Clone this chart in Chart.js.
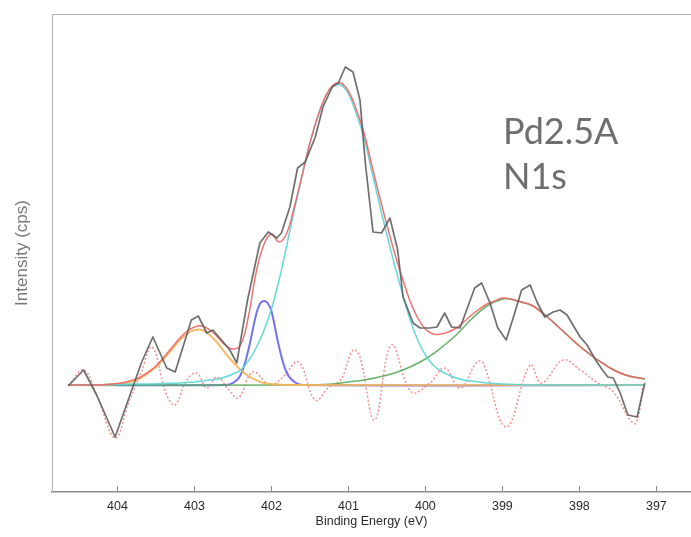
<!DOCTYPE html>
<html>
<head>
<meta charset="utf-8">
<script src="https://cdn.jsdelivr.net/npm/chart.js@4"></script>
<style>
  html, body { margin: 0; padding: 0; background: #fff; }
  #wrap { position: relative; width: 691px; height: 537px; }
</style>
</head>
<body>
<div id="wrap"><canvas id="xpsChart" width="691" height="537"></canvas></div>
<script>
// --- DATA (intensity in arbitrary units above background) ---
const xTicks = [404, 403, 402, 401, 400, 399, 398, 397];

// raw spectrum (background subtracted)
const rawEnergy = [404.64, 404.44, 404.27, 404.03, 403.86, 403.69, 403.54, 403.36, 403.25, 403.04, 402.95, 402.84, 402.76, 402.54, 402.45, 402.31, 402.15, 402.04, 401.93, 401.87, 401.76, 401.66, 401.56, 401.43, 401.33, 401.21, 401.13, 401.04, 400.94, 400.85, 400.78, 400.68, 400.57, 400.46, 400.36, 400.29, 400.16, 400.07, 399.94, 399.85, 399.75, 399.66, 399.55, 399.45, 399.36, 399.27, 399.16, 399.06, 398.95, 398.84, 398.75, 398.64, 398.55, 398.45, 398.34, 398.25, 398.16, 397.99, 397.90, 397.79, 397.70, 397.63, 397.56, 397.47, 397.37, 397.25, 397.15];
const rawCounts = [-1, 15, -10, -52, -15, 22, 48, 17, 13, 65, 69, 52, 55, 35, 22, 85, 142, 153, 147, 152, 178, 217, 223, 248, 278, 298, 302, 318, 313, 285, 222, 153, 152, 167, 135, 88, 62, 57, 57, 58, 72, 58, 57, 78, 97, 102, 82, 57, 45, 72, 95, 100, 83, 68, 73, 75, 70, 48, 40, 25, 15, 8, 7, -8, -30, -32, 2];

// fit envelope
const envEnergy = [404.64, 404.4, 404.2, 404.0, 403.9, 403.8, 403.7, 403.6, 403.5, 403.4, 403.3, 403.2, 403.1, 403.0, 402.9, 402.8, 402.7, 402.6, 402.5, 402.4, 402.3, 402.2, 402.1, 402.0, 401.9, 401.8, 401.7, 401.6, 401.5, 401.4, 401.3, 401.2, 401.1, 401.0, 400.9, 400.8, 400.7, 400.6, 400.5, 400.4, 400.3, 400.2, 400.1, 400.0, 399.9, 399.8, 399.7, 399.6, 399.5, 399.4, 399.3, 399.2, 399.1, 399.0, 398.9, 398.8, 398.7, 398.6, 398.5, 398.4, 398.3, 398.2, 398.1, 398.0, 397.9, 397.8, 397.7, 397.6, 397.5, 397.4, 397.3, 397.2, 397.15];
const envCounts = [0, 0, 0.3, 1.5, 2.7, 5, 8, 13, 19, 27.5, 36.7, 46, 53.5, 58, 59, 55, 48, 40, 36, 40, 68, 112, 140, 151, 143, 152, 179, 210, 242, 268, 288, 300, 302, 294, 276, 253, 221, 190, 160, 132, 107, 84, 67, 56, 51, 51, 53, 57, 63, 70, 76, 81, 84, 87, 86, 84, 82, 79, 73, 67, 60, 53, 46, 39, 33, 27, 22, 17, 13, 10, 8, 7, 6];

// component peaks
const peakAEnergy = [404.64, 404.2, 404.0, 403.9, 403.8, 403.7, 403.6, 403.5, 403.4, 403.3, 403.2, 403.1, 403.0, 402.9, 402.8, 402.7, 402.6, 402.5, 402.4, 402.3, 402.2, 402.1, 402.0, 401.8, 397.15];
const peakACounts = [0, 0, 1, 2, 4, 7, 12, 18, 26, 35, 44, 51, 55, 55, 50, 42, 32, 23, 15, 9, 5, 2, 1, 0, 0];

const peakBEnergy = [404.64, 402.6, 402.5, 402.4, 402.3, 402.2, 402.15, 402.1, 402.05, 402.0, 401.9, 401.8, 401.7, 401.6, 397.15];
const peakBCounts = [0, 0, 2, 10, 35, 70, 81, 84, 82, 74, 38, 12, 3, 0, 0];

const peakCEnergy = [404.64, 404.0, 403.8, 403.6, 403.4, 403.2, 403.1, 403.0, 402.9, 402.8, 402.7, 402.6, 402.5, 402.4, 402.3, 402.2, 402.1, 402.0, 401.9, 401.8, 401.7, 401.6, 401.5, 401.4, 401.3, 401.2, 401.1, 401.0, 400.9, 400.8, 400.7, 400.6, 400.5, 400.4, 400.3, 400.2, 400.1, 400.0, 399.9, 399.8, 399.7, 399.6, 399.5, 399.4, 399.2, 399.0, 398.6, 397.15];
const peakCCounts = [0, 0.5, 1, 1, 1.5, 2, 2.5, 3, 4, 5, 6, 8, 11, 15, 24, 37, 54, 76, 105, 140, 176, 210, 242, 268, 288, 299, 300, 291, 272, 248, 215, 182, 150, 120, 92, 66, 45, 30, 20, 14, 10, 7, 5, 4, 2, 1, 0, 0];

const peakDEnergy = [404.64, 401.6, 401.2, 401.0, 400.8, 400.6, 400.4, 400.2, 400.0, 399.8, 399.6, 399.4, 399.2, 399.0, 398.9, 398.8, 398.6, 398.4, 398.2, 398.0, 397.8, 397.6, 397.4, 397.15];
const peakDCounts = [0, 0, 1, 3, 5, 8, 12, 18, 26, 37, 50, 66, 79, 86, 86, 84, 79, 67, 53, 39, 27, 17, 10, 6];

// residual (raw - envelope)
const residEnergy = [404.64, 404.44, 404.27, 404.03, 403.86, 403.69, 403.55, 403.36, 403.25, 403.10, 402.97, 402.84, 402.71, 402.55, 402.43, 402.24, 402.02, 401.85, 401.65, 401.43, 401.25, 401.10, 400.94, 400.85, 400.66, 400.44, 400.18, 399.94, 399.75, 399.55, 399.33, 399.25, 398.95, 398.64, 398.49, 398.21, 397.99, 397.78, 397.56, 397.34, 397.26, 397.17];
const residCounts = [-1, 15, -10, -53, -19, 13, 38, -10, -20, 5, 12, -3, 8, -5, -13, 13, 0, 8, 23, -15, -2, 5, 35, 28, -35, 40, -7, 2, 17, -3, 23, 22, -42, 20, 2, 25, 15, 3, -7, -35, -38, 0];

function toPoints(xs, ys) {
    return xs.map((x, i) => ({ x: x, y: ys[i] }));
}

// draws top frame line, inward tick marks and the sample label
const framePlugin = {
    id: "frame",
    afterDraw(chart) {
        const ctx = chart.ctx;
        const area = chart.chartArea;
        const xs = chart.scales.x;
        ctx.save();
        ctx.strokeStyle = "#b4b4b4";
        ctx.lineWidth = 1;
        ctx.beginPath();
        ctx.moveTo(area.left, area.top + 0.5);
        ctx.lineTo(area.right, area.top + 0.5);
        ctx.stroke();
        ctx.strokeStyle = "#8a8a8a";
        ctx.beginPath();
        xTicks.forEach(t => {
            const px = Math.round(xs.getPixelForValue(t)) + 0.5;
            ctx.moveTo(px, area.bottom - 6);
            ctx.lineTo(px, area.bottom);
        });
        ctx.stroke();
        ctx.fillStyle = "#6e6e6e";
        ctx.font = "36px Lato, 'Open Sans', sans-serif";
        ctx.textBaseline = "alphabetic";
        ctx.fillText("Pd2.5A", 503, 144);
        ctx.fillText("N1s", 503, 189);
        ctx.restore();
    }
};

const lineBase = { fill: false, pointRadius: 0, borderJoinStyle: "round" };

new Chart(document.getElementById("xpsChart").getContext("2d"), {
    type: "line",
    data: {
        datasets: [
            Object.assign({}, lineBase, {
                label: "Raw", data: toPoints(rawEnergy, rawCounts),
                borderColor: "rgba(95,95,95,0.9)", borderWidth: 1.7, tension: 0, order: 1
            }),
            Object.assign({}, lineBase, {
                label: "Envelope", data: toPoints(envEnergy, envCounts),
                borderColor: "rgba(238,100,100,0.9)", borderWidth: 1.5, tension: 0.4, order: 2
            }),
            Object.assign({}, lineBase, {
                label: "Peak 401.1", data: toPoints(peakCEnergy, peakCCounts),
                borderColor: "rgba(95,215,215,0.95)", borderWidth: 1.5, tension: 0.4, order: 3
            }),
            Object.assign({}, lineBase, {
                label: "Peak 403.0", data: toPoints(peakAEnergy, peakACounts),
                borderColor: "rgba(245,180,90,0.9)", borderWidth: 2, tension: 0.4, order: 4
            }),
            Object.assign({}, lineBase, {
                label: "Peak 399.0", data: toPoints(peakDEnergy, peakDCounts),
                borderColor: "rgba(90,170,90,0.9)", borderWidth: 1.5, tension: 0.4, order: 5
            }),
            Object.assign({}, lineBase, {
                label: "Peak 402.1", data: toPoints(peakBEnergy, peakBCounts),
                borderColor: "rgba(100,100,240,0.9)", borderWidth: 2, tension: 0.4, order: 6
            }),
            Object.assign({}, lineBase, {
                label: "Residual", data: toPoints(residEnergy, residCounts),
                borderColor: "rgba(240,115,115,0.8)", borderWidth: 1.5, borderDash: [2, 2],
                tension: 0.4, order: 7
            })
        ]
    },
    options: {
        responsive: false,
        animation: false,
        layout: { padding: { top: 14, right: 0, left: 0, bottom: 0 } },
        plugins: { legend: { display: false }, tooltip: { enabled: false } },
        scales: {
            x: {
                type: "linear",
                reverse: true,
                min: 396.55,
                max: 404.85,
                afterBuildTicks: scale => { scale.ticks = xTicks.map(v => ({ value: v })); },
                afterFit: scale => { scale.height = 45; },
                grid: { display: false, drawTicks: false },
                border: { display: true, color: "#8a8a8a", width: 1.5 },
                ticks: {
                    padding: 7, color: "#2a2a2a", autoSkip: false, maxRotation: 0,
                    font: { family: "'Liberation Sans', Arial, sans-serif", size: 12.5 }
                },
                title: {
                    display: true, text: "Binding Energy (eV)", color: "#2a2a2a",
                    padding: { top: 0, bottom: 8 },
                    font: { family: "'Liberation Sans', Arial, sans-serif", size: 12.5 }
                }
            },
            y: {
                min: -107,
                max: 371,
                afterFit: scale => { scale.width = 52; },
                grid: { display: false, drawTicks: false },
                border: { display: true, color: "#b4b4b4", width: 1 },
                ticks: { display: false },
                title: {
                    display: true, text: "Intensity (cps)", color: "#777",
                    padding: { top: 12, bottom: 0 },
                    font: { family: "'Liberation Sans', Arial, sans-serif", size: 17 }
                }
            }
        }
    },
    plugins: [framePlugin]
});
</script>
</body>
</html>
